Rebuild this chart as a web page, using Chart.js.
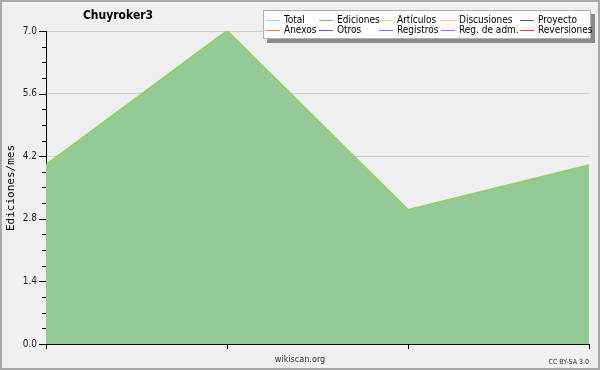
<!DOCTYPE html>
<html>
<head>
<meta charset="utf-8">
<script src="https://cdn.jsdelivr.net/npm/chart.js@4/dist/chart.umd.min.js"></script>
<style>
  html, body { margin: 0; padding: 0; background: #f0f0f0; }
  #wrap { width: 600px; height: 370px; position: relative; }
</style>
</head>
<body>
<div id="wrap"><canvas id="chart" width="600" height="370"></canvas></div>
<script>
// categories (months, unlabeled in the original)
const categories = ['1', '2', '3', '4'];
// edits per month
const ediciones = [4.0, 7.0, 3.0, 4.0];
const articulos = [4.0, 7.0, 3.0, 4.0];
const yTicks = [0.0, 1.4, 2.8, 4.2, 5.6, 7.0];

const legendLabels = ['Total', 'Ediciones', 'Artículos', 'Discusiones', 'Proyecto',
                      'Anexos', 'Otros', 'Registros', 'Reg. de adm.', 'Reversiones'];
const legendColors = ['#8ee0e0', '#7cc27c', '#b8f060', '#f0d050', '#606060',
                      '#f08040', '#8040c8', '#7c7cf0', '#c860e0', '#e03838'];

const font = '"DejaVu Sans Condensed", "Liberation Sans Narrow", "DejaVu Sans"';

// background, frame, title, legend box, footer texts
const decor = {
    id: 'decor',
    beforeDraw(chart) {
        const c = chart.ctx;
        const a = chart.chartArea;
        c.save();
        c.fillStyle = '#f0f0f0';
        c.fillRect(0, 0, 600, 370);
        c.strokeStyle = '#a8a8a8';
        c.lineWidth = 2;
        c.strokeRect(1, 1, 598, 368);
        c.fillStyle = '#eeeff2';
        c.fillRect(a.left, a.top, a.right - a.left, a.bottom - a.top);
        c.restore();
    },
    afterDraw(chart) {
        const c = chart.ctx;
        const a = chart.chartArea;
        const y = chart.scales.y;
        c.save();
        // y tick marks (major + minor)
        c.strokeStyle = '#000';
        c.lineWidth = 1;
        for (let v = 0; v <= 7.0001; v += 0.35) {
            const py = Math.round(y.getPixelForValue(v)) + 0.5;
            const major = yTicks.some(t => Math.abs(t - v) < 0.01);
            c.beginPath();
            c.moveTo(a.left - (major ? 7 : 4), py);
            c.lineTo(a.left, py);
            c.stroke();
        }
        // title
        c.fillStyle = '#000';
        c.font = 'bold 12px ' + font;
        c.textAlign = 'center';
        c.textBaseline = 'middle';
        c.fillText('Chuyroker3', 118, 16);
        // y title
        c.font = '11px "DejaVu Sans Mono"';
        c.translate(11, 188);
        c.rotate(-Math.PI / 2);
        c.fillText('Ediciones/mes', 0, 0);
        c.setTransform(1, 0, 0, 1, 0, 0);
        // footer
        c.fillStyle = '#333';
        c.font = '9px ' + font;
        c.fillText('wikiscan.org', 300, 360);
        c.font = '7px ' + font;
        c.textAlign = 'right';
        c.fillText('CC BY-SA 3.0', 589, 362);
        // legend box
        c.fillStyle = '#8a8a8a';
        c.fillRect(267, 14, 328, 29);
        c.fillStyle = '#ffffff';
        c.fillRect(263, 10, 328, 29);
        c.strokeStyle = '#b0b0b0';
        c.strokeRect(263.5, 10.5, 327, 28);
        const colX = [266, 319, 379, 441, 520];
        const rowY = [20, 30];
        c.font = '10px ' + font;
        c.textAlign = 'left';
        legendLabels.forEach((lab, i) => {
            const col = i % 5, row = Math.floor(i / 5);
            const x = colX[col], yy = rowY[row];
            c.strokeStyle = legendColors[i];
            c.beginPath();
            c.moveTo(x, yy + 0.5);
            c.lineTo(x + 14, yy + 0.5);
            c.stroke();
            c.fillStyle = '#000';
            c.fillText(lab, x + 18, yy);
        });
        c.restore();
    }
};

new Chart(document.getElementById('chart'), {
    type: 'line',
    data: {
        labels: categories,
        datasets: [{
            label: 'Ediciones',
            data: ediciones,
            borderColor: 'rgba(0,0,0,0)',
            borderWidth: 0,
            backgroundColor: '#93cb97',
            fill: 'origin',
            pointRadius: 0,
            tension: 0
        }, {
            label: 'Artículos',
            data: articulos,
            borderColor: '#80e020',
            borderWidth: 2,
            fill: false,
            pointRadius: 0,
            tension: 0
        }]
    },
    options: {
        responsive: false,
        animation: false,
        layout: { padding: { left: 0, right: 11, top: 31, bottom: 0 } },
        plugins: { legend: { display: false }, title: { display: false }, tooltip: { enabled: false } },
        scales: {
            x: {
                offset: false,
                afterFit: s => { s.height = 26; },
                border: { color: '#000', width: 1 },
                grid: { drawOnChartArea: false, tickLength: 5, tickColor: '#000' },
                ticks: { callback: () => '' }
            },
            y: {
                min: 0,
                max: 7,
                afterFit: s => { s.width = 46; },
                afterBuildTicks: s => { s.ticks = yTicks.map(v => ({ value: v })); },
                border: { color: '#000', width: 1 },
                grid: { drawTicks: false, color: '#cfcfcf' },
                ticks: {
                    padding: 9,
                    color: '#222',
                    font: { family: font, size: 10 },
                    callback: v => v.toFixed(1)
                }
            }
        }
    },
    plugins: [decor]
});
</script>
</body>
</html>
